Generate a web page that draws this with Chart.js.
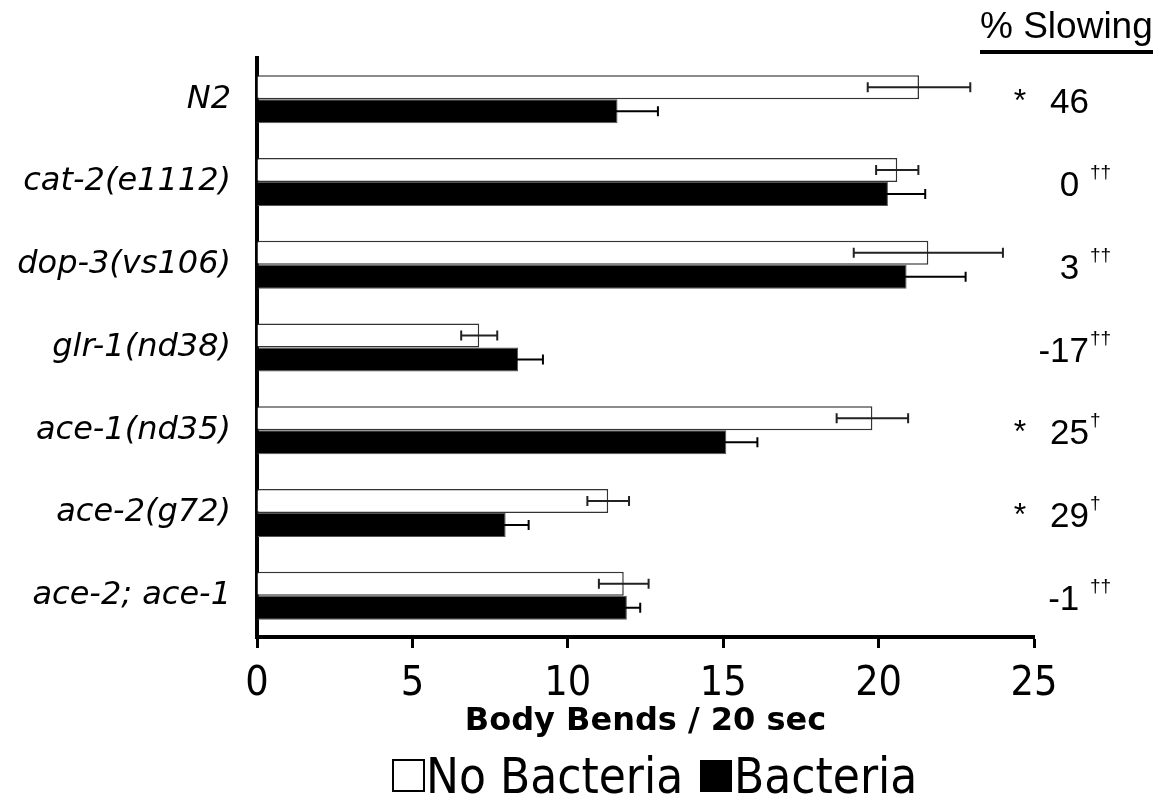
<!DOCTYPE html>
<html>
<head>
<meta charset="utf-8">
<script src="https://cdn.jsdelivr.net/npm/chart.js@4.4.1/dist/chart.umd.min.js"></script>
<style>
  html, body { margin: 0; background: #fff; }
</style>
</head>
<body>
<canvas id="chart" width="1161" height="809"></canvas>
<script>
// dados
const strains = ['N2', 'cat-2(e1112)', 'dop-3(vs106)', 'glr-1(nd38)', 'ace-1(nd35)', 'ace-2(g72)', 'ace-2; ace-1'];
const noBacteria = [21.3, 20.6, 21.6, 7.15, 19.8, 11.3, 11.8];
const noBacteriaErr = [1.65, 0.68, 2.4, 0.58, 1.15, 0.67, 0.8];
const bacteria = [11.6, 20.3, 20.9, 8.4, 15.1, 8.0, 11.9];
const bacteriaErr = [1.3, 1.2, 1.9, 0.8, 1.0, 0.74, 0.43];
const slowing = ['46', '0 ', '3 ', '-17', '25', '29', '-1 '];
const significant = [true, false, false, false, true, true, false];
const daggers = ['', '††', '††', '††', '†', '†', '††'];

const condensed = '"DejaVu Sans Condensed", "DejaVu Sans", sans-serif';
const verdana = '"DejaVu Sans", Verdana, sans-serif';
const arial = '"Liberation Sans", Arial, sans-serif';

// barras de erro (média ± erro)
const errorBars = {
  id: 'errorBars',
  afterDatasetsDraw(chart) {
    const ctx = chart.ctx;
    const x = chart.scales.x;
    chart.data.datasets.forEach((ds, di) => {
      const meta = chart.getDatasetMeta(di);
      meta.data.forEach((bar, i) => {
        const lo = x.getPixelForValue(ds.data[i] - ds.errors[i]);
        const hi = x.getPixelForValue(ds.data[i] + ds.errors[i]);
        const y = bar.y;
        ctx.save();
        ctx.strokeStyle = ds.errorColor;
        ctx.lineWidth = 2;
        ctx.beginPath();
        ctx.moveTo(lo, y); ctx.lineTo(hi, y);
        ctx.moveTo(lo, y - 5); ctx.lineTo(lo, y + 5);
        ctx.moveTo(hi, y - 5); ctx.lineTo(hi, y + 5);
        ctx.stroke();
        ctx.restore();
      });
    });
  }
};

// coluna "% Slowing" + legenda
const extras = {
  id: 'extras',
  afterDraw(chart) {
    const ctx = chart.ctx;
    const y = chart.scales.y;
    ctx.save();
    ctx.fillStyle = '#000';
    ctx.textBaseline = 'alphabetic';

    ctx.font = '37px ' + arial;
    ctx.textAlign = 'left';
    ctx.fillText('% Slowing', 980, 38);
    ctx.fillRect(980, 50, 173, 4);

    strains.forEach((s, i) => {
      const cy = y.getPixelForValue(i);
      const base = cy + 14;
      ctx.font = '35px ' + arial;
      ctx.textAlign = 'right';
      ctx.fillText(slowing[i], 1089, base);
      if (significant[i]) {
        ctx.font = '32px ' + arial;
        ctx.textAlign = 'center';
        ctx.fillText('*', 1020, base - 2);
      }
      if (daggers[i]) {
        ctx.font = '19px ' + arial;
        ctx.textAlign = 'left';
        ctx.fillText(daggers[i], 1090, base - 18);
      }
    });

    // legenda
    const ly = 760, box = 31;
    ctx.lineWidth = 2;
    ctx.strokeStyle = '#000';
    ctx.strokeRect(393, ly, box, box);
    ctx.fillRect(700, ly, box + 1, box + 1);
    ctx.font = '49px ' + condensed;
    ctx.textAlign = 'left';
    ctx.fillText(chart.data.datasets[0].label, 426, ly + box + 2);
    ctx.fillText(chart.data.datasets[1].label, 734, ly + box + 2);
    ctx.restore();
  }
};

new Chart(document.getElementById('chart'), {
  type: 'bar',
  data: {
    labels: strains,
    datasets: [
      { label: 'No Bacteria', data: noBacteria, errors: noBacteriaErr, errorColor: '#222',
        backgroundColor: '#fff', borderColor: '#333', borderWidth: 1.5 },
      { label: 'Bacteria', data: bacteria, errors: bacteriaErr, errorColor: '#000',
        backgroundColor: '#000', borderColor: '#555', borderWidth: 1 }
    ]
  },
  options: {
    indexAxis: 'y',
    responsive: false,
    animation: false,
    layout: { padding: { top: 58, right: 127, left: 0, bottom: 68 } },
    plugins: { legend: { display: false }, tooltip: { enabled: false } },
    datasets: { bar: { categoryPercentage: 0.58, barPercentage: 1 } },
    scales: {
      x: {
        min: 0, max: 25,
        ticks: { stepSize: 5, color: '#000', padding: 12, font: { family: condensed, size: 41 } },
        grid: { drawOnChartArea: false, drawTicks: true, tickLength: 11, tickWidth: 3, tickColor: '#000' },
        border: { display: true, width: 4, color: '#000' },
        title: { display: true, text: 'Body Bends / 20 sec', color: '#000', padding: { top: 0, bottom: 0 },
                 font: { family: verdana, size: 32, weight: 'bold' } },
        afterFit(s) { s.height = 104; }
      },
      y: {
        ticks: { color: '#000', padding: 26, font: { family: verdana, size: 32, style: 'italic' } },
        grid: { drawOnChartArea: false, drawTicks: false },
        border: { display: true, width: 4, color: '#000' },
        afterFit(s) { s.width = 257; }
      }
    }
  },
  plugins: [errorBars, extras]
});
</script>
</body>
</html>
